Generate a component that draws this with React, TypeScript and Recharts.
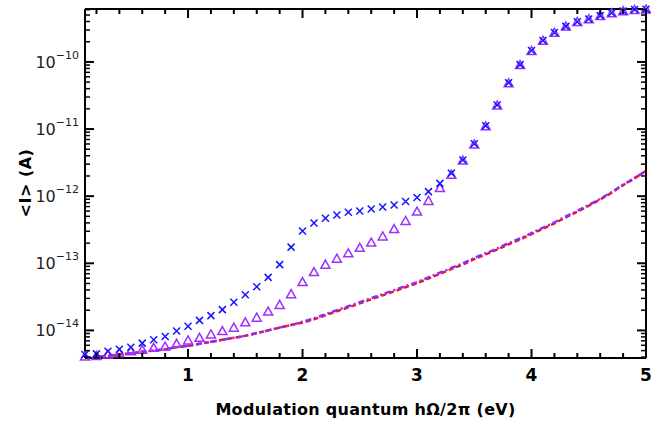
import React from "react";
import { ComposedChart, Scatter, Line, XAxis, YAxis, Label } from "recharts";

// modulation quantum (eV)
const energy = [
  0.1, 0.2, 0.3, 0.4, 0.5, 0.6, 0.7, 0.8, 0.9, 1.0,
  1.1, 1.2, 1.3, 1.4, 1.5, 1.6, 1.7, 1.8, 1.9, 2.0,
  2.1, 2.2, 2.3, 2.4, 2.5, 2.6, 2.7, 2.8, 2.9, 3.0,
  3.1, 3.2, 3.3, 3.4, 3.5, 3.6, 3.7, 3.8, 3.9, 4.0,
  4.1, 4.2, 4.3, 4.4, 4.5, 4.6, 4.7, 4.8, 4.9, 5.0,
];

// <I> (A), blue crosses
const crossCurrent = [
  4.37e-15, 4.47e-15, 4.9e-15, 5.25e-15, 5.62e-15, 6.46e-15, 7.24e-15, 8.13e-15, 9.77e-15, 1.15e-14,
  1.41e-14, 1.66e-14, 2.04e-14, 2.63e-14, 3.39e-14, 4.47e-14, 6.17e-14, 9.55e-14, 1.74e-13, 3.02e-13,
  3.98e-13, 4.68e-13, 5.25e-13, 5.75e-13, 6.03e-13, 6.46e-13, 6.92e-13, 7.41e-13, 8.32e-13, 9.55e-13,
  1.17e-12, 1.55e-12, 2.19e-12, 3.47e-12, 6.03e-12, 1.12e-11, 2.29e-11, 4.9e-11, 9.12e-11, 1.48e-10,
  2.09e-10, 2.75e-10, 3.39e-10, 3.98e-10, 4.37e-10, 4.9e-10, 5.37e-10, 5.75e-10, 6.03e-10, 6.1e-10,
];

// <I> (A), purple triangles
const triangleCurrent = [
  4.07e-15, 4.17e-15, 4.37e-15, 4.57e-15, 4.9e-15, 5.13e-15, 5.5e-15, 5.75e-15, 6.31e-15, 7.08e-15,
  7.76e-15, 8.71e-15, 9.77e-15, 1.1e-14, 1.32e-14, 1.55e-14, 1.91e-14, 2.4e-14, 3.47e-14, 5.25e-14,
  7.41e-14, 9.55e-14, 1.17e-13, 1.41e-13, 1.7e-13, 2.04e-13, 2.51e-13, 3.24e-13, 4.27e-13, 5.89e-13,
  8.51e-13, 1.32e-12, 2.09e-12, 3.39e-12, 5.9e-12, 1.1e-11, 2.25e-11, 4.8e-11, 9.0e-11, 1.46e-10,
  2.07e-10, 2.72e-10, 3.36e-10, 3.95e-10, 4.33e-10, 4.85e-10, 5.3e-10, 5.7e-10, 5.95e-10, 6.05e-10,
];

// red dashed curve
const dashedCurrent = [
  3.89e-15, 4.07e-15, 4.17e-15, 4.37e-15, 4.57e-15, 4.79e-15, 5.01e-15, 5.25e-15, 5.62e-15, 5.89e-15,
  6.31e-15, 6.76e-15, 7.24e-15, 7.76e-15, 8.32e-15, 9.12e-15, 1.0e-14, 1.1e-14, 1.2e-14, 1.31e-14,
  1.46e-14, 1.68e-14, 1.93e-14, 2.2e-14, 2.53e-14, 2.9e-14, 3.33e-14, 3.82e-14, 4.4e-14, 5.05e-14,
  5.93e-14, 6.95e-14, 8.2e-14, 9.6e-14, 1.15e-13, 1.36e-13, 1.6e-13, 1.92e-13, 2.25e-13, 2.72e-13,
  3.27e-13, 3.93e-13, 4.84e-13, 5.85e-13, 7.2e-13, 8.9e-13, 1.13e-12, 1.46e-12, 1.85e-12, 2.38e-12,
];

// purple dash-dot curve
const dashDotCurrent = [
  3.89e-15, 4.07e-15, 4.17e-15, 4.37e-15, 4.57e-15, 4.79e-15, 5.01e-15, 5.25e-15, 5.62e-15, 5.89e-15,
  6.31e-15, 6.76e-15, 7.24e-15, 7.76e-15, 8.32e-15, 9.12e-15, 1.0e-14, 1.1e-14, 1.2e-14, 1.35e-14,
  1.51e-14, 1.74e-14, 2.0e-14, 2.29e-14, 2.63e-14, 3.02e-14, 3.47e-14, 3.98e-14, 4.57e-14, 5.25e-14,
  6.17e-14, 7.24e-14, 8.51e-14, 1.0e-13, 1.2e-13, 1.41e-13, 1.66e-13, 2.0e-13, 2.34e-13, 2.82e-13,
  3.39e-13, 4.07e-13, 5.01e-13, 6.03e-13, 7.41e-13, 9.12e-13, 1.15e-12, 1.48e-12, 1.86e-12, 2.4e-12,
];

const xTicks = [
  0.2, 0.4, 0.6, 0.8, 1, 1.2, 1.4, 1.6, 1.8, 2, 2.2, 2.4, 2.6, 2.8, 3,
  3.2, 3.4, 3.6, 3.8, 4, 4.2, 4.4, 4.6, 4.8, 5,
];
const decades = [1e-15, 1e-14, 1e-13, 1e-12, 1e-11, 1e-10];
const X_DOMAIN = [0.1, 5];
const Y_DOMAIN = [3.88e-15, 6.15e-10];

const yTicks = decades
  .flatMap((d) => [1, 2, 3, 4, 5, 6, 7, 8, 9].map((m) => m * d))
  .filter((v) => v >= Y_DOMAIN[0] && v <= Y_DOMAIN[1]);

const rows = energy.map((x, i) => ({
  x,
  dashed: dashedCurrent[i],
  dashDot: dashDotCurrent[i],
}));
const crossPts = energy.map((x, i) => ({ x, y: crossCurrent[i] }));
const trianglePts = energy.map((x, i) => ({ x, y: triangleCurrent[i] }));

const isDecade = (v: number) => Math.abs(Math.log10(v) - Math.round(Math.log10(v))) < 1e-6;
const isWhole = (v: number) => Math.abs(v - Math.round(v)) < 1e-6;

const frame = { stroke: "#000", strokeWidth: 2 };

const LeftTick = ({ x, y, payload }: any) => {
  const major = isDecade(payload.value);
  const exp = Math.round(Math.log10(payload.value));
  return (
    <g>
      <line x1={x} y1={y} x2={x + (major ? 9 : 5)} y2={y} stroke="#000" strokeWidth={major ? 2 : 1.5} />
      {major && (
        <text x={x - 6} y={y} textAnchor="end" fill="#222" fontFamily="DejaVu Sans" fontSize={16}>
          <tspan dy={6}>10</tspan>
          <tspan dy={-9} fontSize={11}>{"\u2212" + Math.abs(exp)}</tspan>
        </text>
      )}
    </g>
  );
};

const RightTick = ({ x, y, payload }: any) => {
  const major = isDecade(payload.value);
  return <line x1={x} y1={y} x2={x - (major ? 9 : 5)} y2={y} stroke="#000" strokeWidth={major ? 2 : 1.5} />;
};

const BottomTick = ({ x, y, payload }: any) => {
  const major = isWhole(payload.value);
  return (
    <g>
      <line x1={x} y1={y} x2={x} y2={y - (major ? 9 : 5)} stroke="#000" strokeWidth={2} />
      {major && (
        <text x={x} y={y + 23} textAnchor="middle" fill="#000" fontFamily="DejaVu Sans" fontWeight="bold" fontSize={17}>
          {payload.value}
        </text>
      )}
    </g>
  );
};

const TopTick = ({ x, y, payload }: any) => {
  const major = isWhole(payload.value);
  return <line x1={x} y1={y} x2={x} y2={y + (major ? 9 : 5)} stroke="#000" strokeWidth={2} />;
};

const CrossMark = ({ cx, cy }: any) => (
  <path
    d={`M${cx - 3.5},${cy - 3.5}L${cx + 3.5},${cy + 3.5}M${cx - 3.5},${cy + 3.5}L${cx + 3.5},${cy - 3.5}`}
    stroke="#1515ff"
    strokeWidth={1.5}
  />
);

const TriangleMark = ({ cx, cy }: any) => (
  <path
    d={`M${cx},${cy - 4.5}L${cx + 4.5},${cy + 3.5}L${cx - 4.5},${cy + 3.5}Z`}
    fill="none"
    stroke="#9b30ff"
    strokeWidth={1.5}
  />
);

const YTitle = () => (
  <text
    x={25}
    y={183}
    transform="rotate(-90 25 183)"
    textAnchor="middle"
    dominantBaseline="central"
    fill="#000"
    fontFamily="DejaVu Sans"
    fontWeight="bold"
    fontSize={16}
    letterSpacing={0.5}
  >
    {"<I> (A)"}
  </text>
);

export default function App() {
  return (
    <div style={{ position: "absolute", left: 0, top: 0, background: "#fff" }}>
      <ComposedChart width={651} height={434} data={rows} margin={{ top: 0, right: 0, bottom: 0, left: 0 }}>
        <XAxis
          xAxisId="bottom"
          dataKey="x"
          type="number"
          domain={X_DOMAIN}
          ticks={xTicks}
          interval={0}
          height={76}
          tickSize={0}
          tickMargin={0}
          tickLine={false}
          axisLine={frame}
          tick={<BottomTick />}
        >
          <Label
            value="Modulation quantum hΩ/2π (eV)"
            position="insideBottom"
            offset={19}
            fill="#000"
            fontFamily="DejaVu Sans"
            fontWeight="bold"
            fontSize={16}
            letterSpacing={0.3}
          />
        </XAxis>
        <XAxis
          xAxisId="top"
          orientation="top"
          dataKey="x"
          type="number"
          domain={X_DOMAIN}
          ticks={xTicks}
          interval={0}
          height={9}
          tickSize={0}
          tickMargin={0}
          tickLine={false}
          axisLine={frame}
          tick={<TopTick />}
        />
        <YAxis
          yAxisId="left"
          type="number"
          scale="log"
          domain={Y_DOMAIN}
          ticks={yTicks}
          interval={0}
          width={85}
          tickSize={0}
          tickMargin={0}
          tickLine={false}
          axisLine={frame}
          tick={<LeftTick />}
        >
          <Label content={<YTitle />} />
        </YAxis>
        <YAxis
          yAxisId="right"
          orientation="right"
          type="number"
          scale="log"
          domain={Y_DOMAIN}
          ticks={yTicks}
          interval={0}
          width={5}
          tickSize={0}
          tickMargin={0}
          tickLine={false}
          axisLine={frame}
          tick={<RightTick />}
        />
        <Line
          xAxisId="bottom"
          yAxisId="left"
          dataKey="dashed"
          type="monotone"
          stroke="#ff1010"
          strokeWidth={2.5}
          strokeDasharray="5 3"
          dot={false}
          isAnimationActive={false}
        />
        <Line
          xAxisId="bottom"
          yAxisId="left"
          dataKey="dashDot"
          type="monotone"
          stroke="#8a2bff"
          strokeWidth={2.5}
          strokeDasharray="6 3 2 3"
          dot={false}
          isAnimationActive={false}
        />
        <Scatter
          xAxisId="top"
          yAxisId="right"
          data={trianglePts}
          dataKey="y"
          shape={<TriangleMark />}
          isAnimationActive={false}
        />
        <Scatter
          xAxisId="bottom"
          yAxisId="left"
          data={crossPts}
          dataKey="y"
          shape={<CrossMark />}
          isAnimationActive={false}
        />
      </ComposedChart>
    </div>
  );
}
